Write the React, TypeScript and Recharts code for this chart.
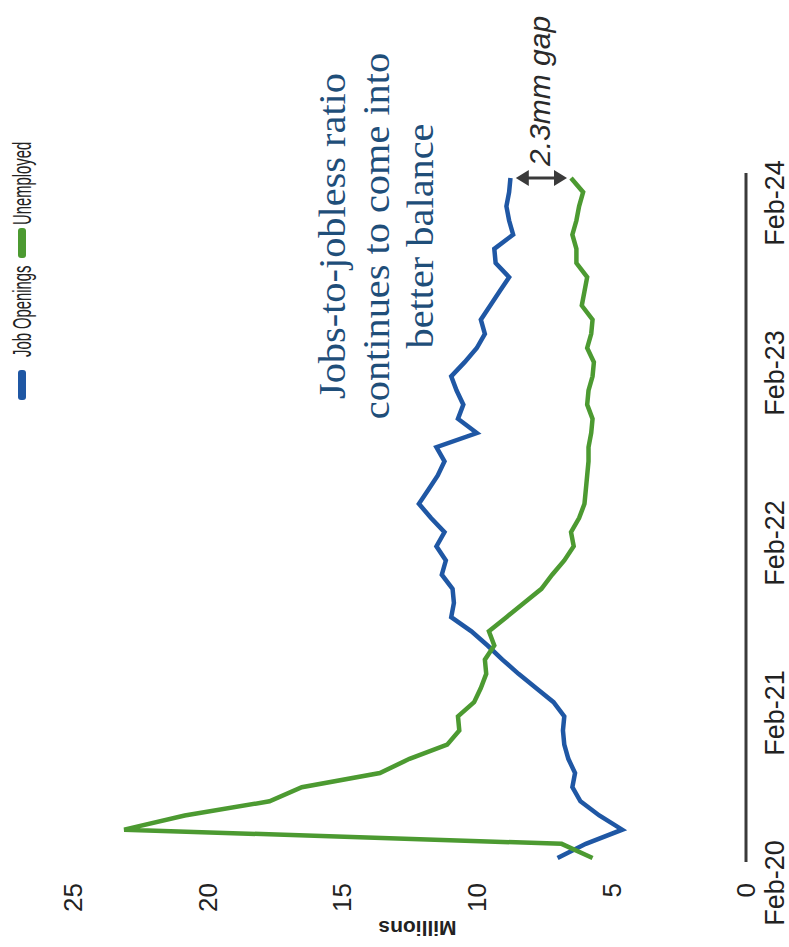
import React from "react";
import {
  LineChart,
  Line,
  XAxis,
  YAxis,
  Legend,
  ReferenceLine,
  Label,
} from "recharts";

// monthly, Feb 2020 -> Feb 2024
const months = [
  "Feb-20", "Mar-20", "Apr-20", "May-20", "Jun-20", "Jul-20", "Aug-20", "Sep-20", "Oct-20", "Nov-20", "Dec-20", "Jan-21",
  "Feb-21", "Mar-21", "Apr-21", "May-21", "Jun-21", "Jul-21", "Aug-21", "Sep-21", "Oct-21", "Nov-21", "Dec-21", "Jan-22",
  "Feb-22", "Mar-22", "Apr-22", "May-22", "Jun-22", "Jul-22", "Aug-22", "Sep-22", "Oct-22", "Nov-22", "Dec-22", "Jan-23",
  "Feb-23", "Mar-23", "Apr-23", "May-23", "Jun-23", "Jul-23", "Aug-23", "Sep-23", "Oct-23", "Nov-23", "Dec-23", "Jan-24",
  "Feb-24",
];

const jobOpenings = [
  7.0, 5.95, 4.6, 5.45, 6.15, 6.45, 6.35, 6.6, 6.75, 6.8, 6.75, 7.15,
  7.8, 8.45, 9.05, 9.6, 10.2, 10.95, 10.85, 10.9, 11.3, 11.15, 11.5, 11.2,
  11.7, 12.15, 11.8, 11.45, 11.2, 11.5, 10.0, 10.7, 10.5, 10.75, 10.95, 10.45,
  10.0, 9.7, 9.85, 9.5, 9.15, 8.8, 9.3, 9.35, 8.65, 8.8, 8.9, 8.8,
  8.75,
];

const unemployed = [
  5.7, 6.85, 23.1, 20.85, 17.7, 16.5, 13.6, 12.5, 11.1, 10.65, 10.7, 10.1,
  9.85, 9.65, 9.7, 9.35, 9.55, 8.9, 8.25, 7.6, 7.2, 6.75, 6.4, 6.5,
  6.2, 6.0, 5.95, 5.9, 5.85, 5.85, 5.75, 5.7, 5.9, 5.85, 5.7, 5.65,
  5.9, 5.75, 5.7, 6.1, 6.0, 5.9, 6.3, 6.3, 6.45, 6.3, 6.2, 6.05,
  6.5,
];

const yTicks = [0, 5, 10, 15, 20, 25];

const BLUE = "#1f57a4";
const GREEN = "#4c9a31";
const W = 947;
const H = 789;
const SANS = "'Liberation Sans Narrow', 'Arial Narrow', 'Liberation Sans', Arial, sans-serif";

const data = months.map((m, i) => ({
  month: m,
  jobs: jobOpenings[i],
  unemp: unemployed[i],
}));

function renderLegend(props: any) {
  const { payload } = props;
  return (
    <div style={{ display: "flex", alignItems: "center", height: 30, fontFamily: SANS, fontSize: 26, color: "#222" }}>
      {payload.map((entry: any, i: number) => (
        <span key={entry.value} style={{ display: "flex", alignItems: "center" }}>
          <span
            style={{
              display: "inline-block",
              width: 30,
              height: 8,
              borderRadius: 3,
              background: entry.color,
              marginLeft: i === 0 ? 0 : 13,
              marginRight: i === 0 ? 13 : 3,
            }}
          />
          <span style={{ display: "inline-block", width: i === 0 ? 86 : 80, whiteSpace: "nowrap" }}>
            <span style={{ display: "inline-block", transform: "scaleX(0.57)", transformOrigin: "0 50%" }}>
              {entry.value}
            </span>
          </span>
        </span>
      ))}
    </div>
  );
}

function GapArrow(props: any) {
  const { x1, y1, x2, y2 } = props;
  const top = Math.min(y1, y2);
  const bot = Math.max(y1, y2);
  const c = "#3a3a3a";
  return (
    <g>
      <line x1={x1} y1={top + 10} x2={x2} y2={bot - 10} stroke={c} strokeWidth={3} />
      <polygon points={`${x1},${top} ${x1 - 8},${top + 13} ${x1 + 8},${top + 13}`} fill={c} />
      <polygon points={`${x1},${bot} ${x1 - 8},${bot - 13} ${x1 + 8},${bot - 13}`} fill={c} />
    </g>
  );
}

export default function App() {
  return (
    <div
      style={{
        position: "absolute",
        left: 0,
        top: 0,
        width: H,
        height: W,
        overflow: "hidden",
        background: "#fff",
      }}
    >
      {/* chart is drawn in landscape and turned a quarter turn counter-clockwise */}
      <div
        style={{
          position: "absolute",
          left: 0,
          top: 0,
          width: W,
          height: H,
          transformOrigin: "0 0",
          transform: `translateY(${W}px) rotate(-90deg)`,
        }}
      >
        <LineChart width={W} height={H} data={data} margin={{ top: 73, right: 173, bottom: 0, left: 0 }}>
          <XAxis
            dataKey="month"
            interval={11}
            height={43}
            padding={{ left: 4, right: 5 }}
            tickLine={false}
            tickSize={0}
            tickMargin={19}
            axisLine={{ stroke: "#3a3a3a", strokeWidth: 3 }}
            tick={{ fill: "#222", fontSize: 27, fontFamily: SANS, dx: -25 }}
          />
          <YAxis
            domain={[0, 25]}
            ticks={yTicks}
            width={85}
            axisLine={false}
            tickLine={false}
            tickSize={0}
            tickMargin={21}
            tick={{ fill: "#222", fontSize: 26, fontFamily: SANS }}
          >
            <Label
              value="Millions"
              angle={-90}
              position="center"
              dx={-24}
              dy={8}
              style={{ fill: "#222", fontSize: 21, fontWeight: "bold", fontFamily: SANS }}
            />
          </YAxis>
          <Legend
            layout="horizontal"
            verticalAlign="middle"
            align="center"
            content={renderLegend}
            wrapperStyle={{ left: 547, top: 7, width: "auto", height: "auto" }}
          />
          <Line
            type="linear"
            dataKey="jobs"
            name="Job Openings"
            stroke={BLUE}
            strokeWidth={4.5}
            dot={false}
            isAnimationActive={false}
          />
          <Line
            type="linear"
            dataKey="unemp"
            name="Unemployed"
            stroke={GREEN}
            strokeWidth={4.5}
            dot={false}
            isAnimationActive={false}
          />
          <ReferenceLine
            segment={[
              { x: "Feb-24", y: 8.55 },
              { x: "Feb-24", y: 6.65 },
            ]}
            shape={GapArrow}
          />
        </LineChart>

        <div
          style={{
            position: "absolute",
            left: 511,
            top: 311,
            width: 400,
            textAlign: "center",
            fontFamily: "'Liberation Serif', 'Times New Roman', serif",
            fontSize: 37,
            lineHeight: "44px",
            color: "#1f4e79",
            whiteSpace: "nowrap",
            transform: "scaleX(1.09)",
            transformOrigin: "50% 50%",
          }}
        >
          Jobs-to-jobless ratio
          <br />
          continues to come into
          <br />
          better balance
        </div>
        <div
          style={{
            position: "absolute",
            left: 781,
            top: 521,
            fontFamily: "'Liberation Sans', Arial, sans-serif",
            fontStyle: "italic",
            fontSize: 30,
            lineHeight: "38px",
            color: "#2a2a2a",
            whiteSpace: "nowrap",
          }}
        >
          2.3mm gap
        </div>
      </div>
    </div>
  );
}
